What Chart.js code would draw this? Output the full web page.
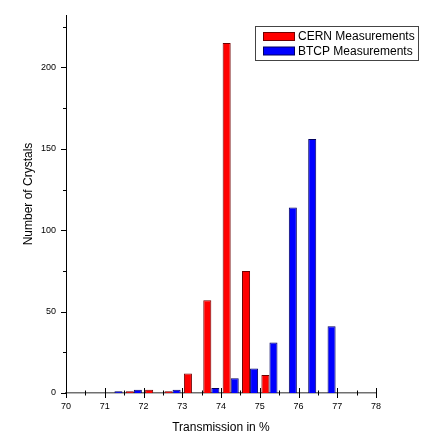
<!DOCTYPE html>
<html>
<head>
<meta charset="utf-8">
<script src="https://cdn.jsdelivr.net/npm/chart.js@4/dist/chart.umd.min.js"></script>
<style>
  html, body { margin: 0; padding: 0; background: #fff; }
  #wrap { width: 422px; height: 435px; position: relative; }
</style>
</head>
<body>
<div id="wrap"><canvas id="c" width="422" height="435"></canvas></div>
<script>
// ---- data ----
const binCenters = [71.25, 71.75, 72.25, 72.75, 73.25, 73.75, 74.25, 74.75, 75.25, 75.75, 76.25, 76.75];
const cernCounts = [0, 1, 2, 1, 12, 57, 215, 75, 11, 0, 0, 0];
const btcpCounts = [1, 2, 0, 2, 0, 3, 9, 15, 31, 114, 156, 41];
const seriesNames = ['CERN Measurements', 'BTCP Measurements'];
const xTitle = 'Transmission in %';
const yTitle = 'Number of Crystals';

const FONT = '"Liberation Sans", Arial, sans-serif';
Chart.defaults.font.family = FONT;
Chart.defaults.color = '#000';

const toPoints = (vals) => binCenters.map((x, i) => ({ x: x, y: vals[i] }));

const tickMarks = {
  id: 'tickMarks',
  afterDraw(chart) {
    const ctx = chart.ctx;
    const xs = chart.scales.x, ys = chart.scales.y;
    const area = chart.chartArea;
    ctx.save();
    ctx.strokeStyle = '#000';
    ctx.lineWidth = 1;
    xs.ticks.forEach(t => {
      const px = Math.round(xs.getPixelForValue(t.value)) + 0.5;
      const major = Math.abs(t.value - Math.round(t.value)) < 1e-9;
      const len = major ? 5 : 2.5;
      ctx.beginPath();
      ctx.moveTo(px, area.bottom - len);
      ctx.lineTo(px, area.bottom + len);
      ctx.stroke();
    });
    ys.ticks.forEach(t => {
      const py = Math.round(ys.getPixelForValue(t.value)) + 0.5;
      const major = t.value % 50 === 0;
      const len = major ? 5 : 3;
      ctx.beginPath();
      ctx.moveTo(area.left - len, py);
      ctx.lineTo(area.left, py);
      ctx.stroke();
    });
    // y-axis title (real text), placed like the reference
    ctx.fillStyle = '#000';
    ctx.font = '12px ' + FONT;
    ctx.textAlign = 'center';
    ctx.textBaseline = 'middle';
    ctx.translate(29, 194);
    ctx.rotate(-Math.PI / 2);
    ctx.fillText(yTitle, 0, 0);
    ctx.restore();
  }
};

const boxLegend = {
  id: 'boxLegend',
  afterDraw(chart) {
    const ctx = chart.ctx;
    ctx.save();
    const bx = 255.5, by = 26.5, bw = 163, bh = 34;
    ctx.fillStyle = '#fff';
    ctx.fillRect(bx, by, bw, bh);
    ctx.strokeStyle = '#444';
    ctx.lineWidth = 1;
    ctx.strokeRect(bx, by, bw, bh);
    chart.data.datasets.forEach((ds, i) => {
      const sy = 32 + i * 14.5;
      ctx.fillStyle = ds.borderColor;
      ctx.fillRect(263, sy, 32, 9);
      ctx.fillStyle = ds.backgroundColor;
      ctx.fillRect(264, sy + 1, 30, 7);
      ctx.fillStyle = '#000';
      ctx.font = '12px ' + FONT;
      ctx.textBaseline = 'middle';
      ctx.textAlign = 'left';
      ctx.fillText(ds.label, 298, sy + 5);
    });
    ctx.restore();
  }
};

new Chart(document.getElementById('c'), {
  type: 'bar',
  data: {
    datasets: [
      {
        label: seriesNames[0],
        data: toPoints(cernCounts),
        backgroundColor: '#ff0000',
        borderColor: '#700000',
        borderWidth: 1,
        borderSkipped: 'start'
      },
      {
        label: seriesNames[1],
        data: toPoints(btcpCounts),
        backgroundColor: '#0000ff',
        borderColor: '#000060',
        borderWidth: 1,
        borderSkipped: 'start'
      }
    ]
  },
  options: {
    responsive: false,
    animation: false,
    devicePixelRatio: 1,
    categoryPercentage: 0.83,
    barPercentage: 1.0,
    layout: { padding: { top: 8, right: 46, left: 0, bottom: 0 } },
    plugins: {
      legend: { display: false },
      tooltip: { enabled: false }
    },
    scales: {
      x: {
        type: 'linear',
        min: 70,
        max: 78,
        offset: false,
        grid: { display: false, drawTicks: false },
        border: { display: true, color: '#707070', width: 1.5 },
        ticks: {
          stepSize: 0.5,
          autoSkip: false,
          minRotation: 0,
          maxRotation: 0,
          padding: 8,
          font: { size: 9 },
          callback: (v) => (Math.abs(v - Math.round(v)) < 1e-9 ? String(Math.round(v)) : '')
        },
        title: {
          display: true,
          text: xTitle,
          font: { size: 12 },
          padding: { top: 0, bottom: 0 }
        },
        afterFit: (s) => { s.height = 42; }
      },
      y: {
        type: 'linear',
        min: 0,
        max: 232,
        grid: { display: false, drawTicks: false },
        border: { display: true, color: '#000', width: 1 },
        ticks: {
          stepSize: 25,
          includeBounds: false,
          autoSkip: false,
          minRotation: 0,
          maxRotation: 0,
          padding: 10,
          font: { size: 9 },
          callback: (v) => (v % 50 === 0 ? String(v) : '')
        },
        title: { display: false },
        afterFit: (s) => { s.width = 66; }
      }
    }
  },
  plugins: [tickMarks, boxLegend]
});
</script>
</body>
</html>
